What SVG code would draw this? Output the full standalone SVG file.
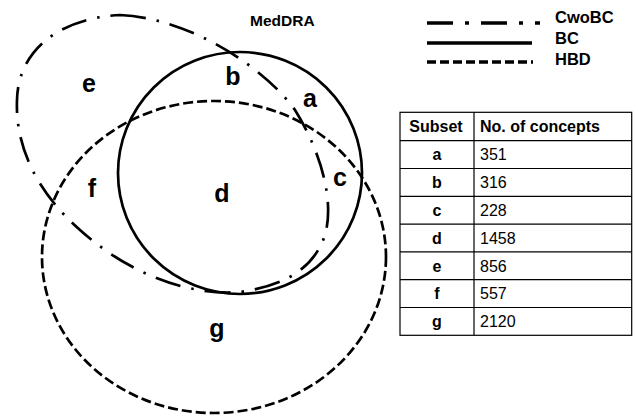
<svg xmlns="http://www.w3.org/2000/svg" width="638" height="417" viewBox="0 0 638 417">
<style>
.sh{fill:none;stroke:#000;stroke-width:2.7}
.hbd{stroke-dasharray:10,4}
.cw{stroke-dasharray:26,11,2.5,11}
.lg{fill:none;stroke:#000;stroke-width:3.5}
.lab{font-family:"Liberation Sans",Arial,sans-serif;font-weight:bold;font-size:25px;fill:#000;text-anchor:middle}
.t{font-family:"Liberation Sans",Arial,sans-serif;font-size:16px;fill:#000}
.b{font-weight:bold}
.grid{fill:none;stroke:#000;stroke-width:1.2}
</style>
<rect width="638" height="417" fill="#fff"/>
<g id="connectors">
<path id="set-cwobc" class="sh cw" d="M120,15 C190,18 265,68 295,110 C320,150 335,200 325,235 C315,265 290,285 240,292 C190,296 130,275 80,230 C40,195 15,150 17,100 C18,50 60,18 120,15 Z"/>
<ellipse id="set-bc" class="sh" cx="240" cy="173" rx="122" ry="121"/>
<ellipse id="set-hbd" class="sh hbd" cx="214" cy="257" rx="172" ry="156"/>
</g>
<g id="title"><text class="t b" x="250" y="26" style="font-size:15.5px">MedDRA</text></g>
<g id="regions">
<text class="lab" x="89" y="92">e</text>
<text class="lab" x="233" y="85">b</text>
<text class="lab" x="310" y="107">a</text>
<text class="lab" x="340" y="186">c</text>
<text class="lab" x="92" y="197">f</text>
<text class="lab" x="222" y="202">d</text>
<text class="lab" x="217" y="337">g</text>
</g>
<g id="legend">
<line class="lg" x1="427" y1="23" x2="540" y2="23" stroke-dasharray="26,12,4,12"/>
<line class="lg" x1="427" y1="43" x2="532" y2="43"/>
<line class="lg" x1="427" y1="62" x2="533" y2="62" stroke-dasharray="9,4"/>
<text class="t b" x="555" y="23" style="font-size:16.5px">CwoBC</text>
<text class="t b" x="555" y="44" style="font-size:16.5px">BC</text>
<text class="t b" x="555" y="65" style="font-size:16.5px">HBD</text>
</g>
<g id="table">
<rect class="grid" x="400" y="112.3" width="231.7" height="223"/>
<line class="grid" x1="474" y1="112.3" x2="474" y2="335.3"/>
<g class="grid">
<line x1="400" y1="140.7" x2="631.7" y2="140.7"/>
<line x1="400" y1="168.5" x2="631.7" y2="168.5"/>
<line x1="400" y1="196.3" x2="631.7" y2="196.3"/>
<line x1="400" y1="224.1" x2="631.7" y2="224.1"/>
<line x1="400" y1="251.9" x2="631.7" y2="251.9"/>
<line x1="400" y1="279.7" x2="631.7" y2="279.7"/>
<line x1="400" y1="307.5" x2="631.7" y2="307.5"/>
</g>
<text class="t b" x="436" y="132" text-anchor="middle">Subset</text>
<text class="t b" x="480" y="132">No. of concepts</text>
<g class="t b" text-anchor="middle">
<text x="437" y="160">a</text>
<text x="437" y="188">b</text>
<text x="437" y="216">c</text>
<text x="437" y="243.5">d</text>
<text x="437" y="271.5">e</text>
<text x="437" y="299">f</text>
<text x="437" y="327">g</text>
</g>
<g class="t">
<text x="480" y="160">351</text>
<text x="480" y="188">316</text>
<text x="480" y="216">228</text>
<text x="480" y="243.5">1458</text>
<text x="480" y="271.5">856</text>
<text x="480" y="299">557</text>
<text x="480" y="327">2120</text>
</g>
</g>
</svg>
